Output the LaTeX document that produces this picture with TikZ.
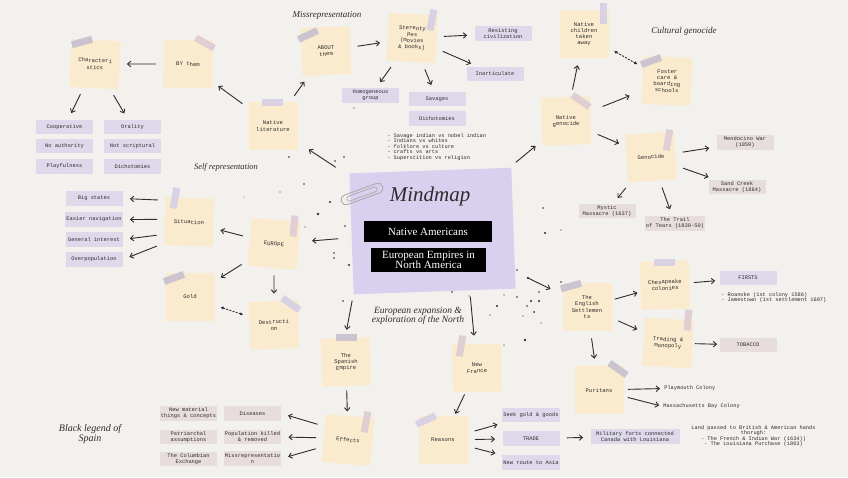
\documentclass[tikz,border=0pt]{standalone}
\usepackage{fontspec}
\setmainfont{Liberation Serif}
\newfontfamily\typefont{Liberation Mono}
\usetikzlibrary{arrows.meta}

\definecolor{paper}{HTML}{F3F1ED}
\definecolor{notecol}{HTML}{FAEBCF}
\definecolor{tapegrey}{HTML}{C6C0CE}
\definecolor{tapelav}{HTML}{D5CFE6}
\definecolor{tapepink}{HTML}{DDCCD3}
\definecolor{lavbox}{HTML}{DDD9EA}
\definecolor{pinkbox}{HTML}{E7DDDE}
\definecolor{hubcol}{HTML}{D9D0EF}
\definecolor{ink}{HTML}{2E2C2C}

\tikzset{every picture/.style={line width=0.75pt}}
\tikzset{
  stickynote/.style={fill=notecol, minimum width=49pt, minimum height=48pt, inner sep=1pt, align=center, text=ink, font=\typefont\fontsize{5.6}{6.3}\selectfont},
  tape/.style={fill=#1, fill opacity=0.9, minimum width=21pt, minimum height=7pt, inner sep=0pt},
  lavlabel/.style={fill=lavbox, minimum width=57pt, minimum height=14.5pt, inner sep=1pt, align=center, text=ink, font=\typefont\fontsize{5.4}{6}\selectfont},
  pinklabel/.style={lavlabel, fill=pinkbox},
  plaintext/.style={inner sep=0pt, align=left, text=ink, font=\typefont\fontsize{5.3}{5.5}\selectfont},
  handtitle/.style={inner sep=0pt, align=center, text=ink, font=\itshape\fontsize{#1}{#1}\selectfont},
  titlebar/.style={fill=black, text=white, align=center, inner sep=0pt, font=\fontsize{11}{10.5}\selectfont},
  link/.style={-{Straight Barb[length=3.2pt,width=5.5pt]}, line width=0.9pt, draw=ink, shorten <=7pt, shorten >=7pt},
  hublink/.style={link, shorten <=13pt, shorten >=13pt},
  twoway/.style={{Latex[length=3pt,width=3.5pt]}-{Latex[length=3pt,width=3.5pt]}, dash pattern=on 2pt off 1.3pt, line width=0.9pt, draw=ink, shorten <=6pt, shorten >=6pt}
}

\begin{document}
\begin{tikzpicture}[x=1pt,y=1pt,yscale=-1]
%Shape: Rectangle
\fill[paper] (0,0) rectangle (848,477);
\useasboundingbox (0,0) rectangle (848,477);

%Shape: Rectangle
\node[fill=hubcol, minimum width=162pt, minimum height=121pt, inner sep=0pt, rotate=2] (hub) at (432.5,231) {};
% Text Node
\node[handtitle=21] (mindmaptitle) at (430,196) {Mindmap};
\node[titlebar, minimum width=128pt, minimum height=21pt] (natam) at (428,231.5) {Native Americans};
\node[titlebar, minimum width=115pt, minimum height=24pt] (euremp) at (428.5,260) {European Empires in\\North America};

%Shape: Paperclip
\draw[gray!65, line width=0.9pt, rounded corners=5pt, rotate around={-20:(362,194)}] (340,189) rectangle (384,199);
\draw[gray!65, line width=0.8pt, rounded corners=2.5pt, rotate around={-20:(362,194)}] (346,191.5) rectangle (378,196.5);

%Shape: Dots
\foreach \px/\py/\r in {335/161/0.8, 304/184/0.8, 280/192/0.6, 330/202/1.2, 318/214/1.3, 305/227/0.7, 345/226/0.9, 334/253/0.8, 334/258/0.8, 349/265/1.1, 244/197/0.5, 343/301/0.9, 543/208/0.8, 561/230/0.7, 545/233/1.2, 517/270/0.8, 528/278/1.2, 539/292/0.8, 531/301/1.1, 539/301/1.1, 527/306/0.8, 534/312/1.0, 497/306/1.2, 504/295/0.7, 469/296/0.7, 452/292/0.8, 517/297/0.9, 523/316/0.7, 561/282/0.8, 490/315/0.7, 525/340/1.4, 504/345/0.6, 541/323/0.6, 354/108/0.6, 289/157/0.8, 344/157/0.8}
  \fill[ink] (\px,\py) circle (\r);

%Shape: Sticky notes
\node[stickynote, rotate=-3, font=\typefont\fontsize{5.6}{7.2}\selectfont] (charnote) at (95,64) {Characteri\\stics};
\node[stickynote, rotate=-1] (bythem) at (188,64) {BY them};
\node[stickynote, rotate=2] (aboutthem) at (326,51) {ABOUT\\them};
\node[stickynote] (natlit) at (273,126) {Native\\literature};
\node[stickynote, rotate=-3] (stereo) at (412,38) {Stereoty\\pes\\(movies\\\& books)};
\node[stickynote] (natchild) at (584,34) {Native\\children\\taken\\away};
\node[stickynote, rotate=2] (natgen) at (566,121) {Native\\genocide};
\node[stickynote, rotate=-2] (foster) at (667,81) {Foster\\care \&\\boarding\\schools};
\node[stickynote, rotate=3] (genocide) at (651,157) {Genocide};
\node[stickynote, rotate=-2] (situation) at (189,222) {Situation};
\node[stickynote, rotate=-5] (europe) at (274,244) {EUROPE};
\node[stickynote] (gold) at (190,297) {Gold};
\node[stickynote, rotate=2] (destruction) at (274,325) {Destructi\\on};
\node[stickynote, rotate=2] (spanish) at (346,362) {The\\Spanish\\Empire};
\node[stickynote, rotate=-5] (effects) at (348,440) {Effects};
\node[stickynote, rotate=1] (newfrance) at (477,368) {New\\France};
\node[stickynote] (reasons) at (443,440) {Reasons};
\node[stickynote] (english) at (587,307) {The\\English\\Settlemen\\ts};
\node[stickynote, rotate=2] (chesapeake) at (665,285) {Chesapeake\\colonies};
\node[stickynote, rotate=-3] (trading) at (668,343) {Trading \&\\monopoly};
\node[stickynote] (puritans) at (599,390) {Puritans};

%Shape: Tapes
\node[tape=tapegrey, rotate=15] (tCharnote) at (82,42) {};
\node[tape=tapepink, rotate=-30] (tBythem) at (205,43) {};
\node[tape=tapegrey, rotate=25] (tAboutthem) at (308,35) {};
\node[tape=tapelav] (tNatlit) at (272,102) {};
\node[tape=tapelav, rotate=80] (tStereo) at (432,20) {};
\node[tape=tapelav, rotate=90] (tNatchild) at (603,13) {};
\node[tape=tapepink, rotate=-35] (tNatgen) at (581,101) {};
\node[tape=tapegrey, rotate=20] (tFoster) at (651,61) {};
\node[tape=tapepink, rotate=80] (tGenocide) at (668,140) {};
\node[tape=tapelav, rotate=80] (tSituation) at (175,198) {};
\node[tape=tapepink, rotate=85] (tEurope) at (294,226) {};
\node[tape=tapegrey, rotate=20] (tGold) at (174,278) {};
\node[tape=tapelav, rotate=-35] (tDestruction) at (291,304) {};
\node[tape=tapegrey] (tSpanish) at (346,337) {};
\node[tape=tapepink, rotate=80] (tEffects) at (366,422) {};
\node[tape=tapepink, rotate=80] (tNewfrance) at (461,346) {};
\node[tape=tapelav, rotate=25] (tReasons) at (426,420) {};
\node[tape=tapegrey, rotate=15] (tEnglish) at (571,286) {};
\node[tape=tapelav] (tChesapeake) at (664,262) {};
\node[tape=tapepink, rotate=85] (tTrading) at (688,320) {};
\node[tape=tapegrey, rotate=-35] (tPuritans) at (618,369) {};

%Shape: Label boxes
\node[lavlabel] (coop) at (64.5,127) {Cooperative};
\node[lavlabel] (orality) at (132.5,127) {Orality};
\node[lavlabel] (noauth) at (64.5,146) {No authority};
\node[lavlabel] (notscript) at (132.5,146) {Not scriptural};
\node[lavlabel] (playful) at (64.5,166.5) {Playfulness};
\node[lavlabel] (dichotA) at (132.5,166.5) {Dichotomies};
\node[lavlabel] (resist) at (503,33.5) {Resisting\\civilization};
\node[lavlabel] (inartic) at (495,74) {Inarticulate};
\node[lavlabel] (savages) at (437,99) {Savages};
\node[lavlabel] (dichotB) at (437,118.5) {Dichotomies};
\node[lavlabel] (homog) at (370.5,95.5) {Homogeneous\\group};
\node[pinklabel] (mendocino) at (745,142.5) {Mendocino War\\(1859)};
\node[pinklabel] (sandcreek) at (737,187) {Sand Creek\\Massacre (1864)};
\node[pinklabel] (trail) at (675,223.5) {The Trail\\of Tears (1830-50)};
\node[pinklabel] (mystic) at (607,211) {Mystic\\Massacre (1637)};
\node[lavlabel] (bigstates) at (94,198.5) {Big states};
\node[lavlabel] (easier) at (94,219.5) {Easier navigation};
\node[lavlabel] (general) at (94,239.5) {General interest};
\node[lavlabel] (overpop) at (94,259.5) {Overpopulation};
\node[pinklabel] (diseases) at (252.5,413.5) {Diseases};
\node[pinklabel] (popkilled) at (252.5,437) {Population killed\\\& removed};
\node[pinklabel] (missrep) at (252.5,458.5) {Missrepresentatio\\n};
\node[pinklabel] (newmat) at (188.5,413.5) {New material\\things \& concepts};
\node[pinklabel] (patri) at (188.5,437) {Patriarchal\\assumptions};
\node[pinklabel] (columbian) at (188.5,459) {The Columbian\\Exchange};
\node[lavlabel] (seek) at (531,415) {Seek gold \& goods};
\node[lavlabel] (trade) at (531,438.5) {TRADE};
\node[lavlabel] (newroute) at (531,462.5) {New route to Asia};
\node[lavlabel, minimum width=89pt] (military) at (635,436.5) {Military forts connected\\Canada with Louisiana};
\node[lavlabel] (firsts) at (748,278) {FIRSTS};
\node[pinklabel] (tobacco) at (748,345) {TOBACCO};

% Text Node
\node[plaintext, anchor=north west] (dichlist) at (387,133) {- Savage indian vs nobel indian\\- Indians vs whites\\- folklore vs culture\\- crafts vs arts\\- Superstition vs religion};
\node[plaintext, anchor=north west] (firstslist) at (721,292) {- Roanoke (1st colony 1586)\\- Jamestown (1st settlement 1607)};
\node[plaintext, anchor=west] (plymouth) at (664,388.5) {Playmouth Colony};
\node[plaintext, anchor=west] (massbay) at (663,406.5) {Massachusetts Bay Colony};
\node[plaintext, align=center] (landtext) at (753.5,436) {Land passed to British \& American hands\\thorugh:\\- The French \& Indian War (1634))\\- The Louisiana Purchase (1803)};

% Text Node
\node[handtitle=9] (misreptitle) at (327,15) {Missrepresentation};
\node[handtitle=9] (culturaltitle) at (684,31) {Cultural genocide};
\node[handtitle=8.5] (selftitle) at (226,167) {Self representation};
\node[handtitle=9.5] (expansiontitle) at (418,316) {European expansion \&\\exploration of the North};
\node[handtitle=10] (blacktitle) at (90,434) {Black legend of\\Spain};

%Straight Lines
\draw[link] (bythem) -- (charnote);
\draw[link] (charnote) -- (coop);
\draw[link] (charnote) -- (orality);
\draw[link] (natlit) -- (aboutthem);
\draw[link] (natlit) -- (bythem);
\draw[link] (aboutthem) -- (stereo);
\draw[link] (stereo) -- (resist);
\draw[link] (stereo) -- (inartic);
\draw[link] (stereo) -- (savages);
\draw[link] (stereo) -- (homog);
\draw[hublink, shorten <=16pt] (hub) -- (natlit);
\draw[hublink, shorten <=8pt, shorten >=8pt] (hub) -- (natgen);
\draw[link] (natgen) -- (natchild);
\draw[hublink] (natgen) -- (foster);
\draw[link] (natgen) -- (genocide);
\draw[twoway] (natchild) -- (foster);
\draw[link] (genocide) -- (mendocino);
\draw[link] (genocide) -- (sandcreek);
\draw[link] (genocide) -- (trail);
\draw[link] (genocide) -- (mystic);
\draw[hublink] (hub) -- (europe);
\draw[link] (europe) -- (situation);
\draw[link] (europe) -- (gold);
\draw[link] (europe) -- (destruction);
\draw[twoway] (gold) -- (destruction);
\draw[link] (situation.140) -- (bigstates.east);
\draw[link] (situation.176) -- (easier.east);
\draw[link] (situation.208) -- (general.east);
\draw[link] (situation.222) -- (overpop.east);
\draw[link, shorten <=6pt, shorten >=8pt] (hub.south west) -- (spanish.north);
\draw[link, shorten <=6pt, shorten >=8pt] (hub.-60) -- (newfrance);
\draw[link, shorten <=4pt, shorten >=4pt] (spanish) -- (effects);
\draw[link] (effects.155) -- (diseases.east);
\draw[link] (effects.west) -- (popkilled.east);
\draw[link] (effects.200) -- (missrep.east);
\draw[link, shorten <=2pt, shorten >=2pt] (newfrance) -- (reasons);
\draw[link] (reasons) -- (seek);
\draw[link] (reasons) -- (trade);
\draw[link] (reasons) -- (newroute);
\draw[link] (trade) -- (military);
\draw[hublink] (hub) -- (english);
\draw[link, shorten <=3pt, shorten >=3pt] (english) -- (chesapeake);
\draw[link] (english) -- (trading);
\draw[link] (english) -- (puritans);
\draw[link, shorten <=4pt, shorten >=4pt] (chesapeake) -- (firsts);
\draw[link, shorten <=2pt, shorten >=2pt] (trading) -- (tobacco);
\draw[link, shorten <=4pt, shorten >=4pt] (puritans) -- (plymouth.west);
\draw[link, shorten <=4pt, shorten >=4pt] (puritans) -- (massbay.west);

\end{tikzpicture}
\end{document}
